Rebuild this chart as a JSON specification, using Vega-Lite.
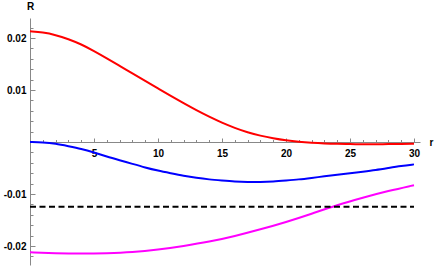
{
  "$schema": "https://vega.github.io/schema/vega-lite/v6.json",
  "autosize": "none",
  "width": 390,
  "height": 247,
  "padding": {"left": 30, "top": 18, "right": 16, "bottom": 2},
  "background": "white",
  "config": {
    "view": {"stroke": null},
    "axis": {
      "grid": false,
      "domainColor": "#888888",
      "tickColor": "#888888",
      "labelFont": "Liberation Sans",
      "labelFontWeight": "bold",
      "labelFontSize": 10,
      "labelColor": "#000000",
      "titleFont": "Liberation Sans",
      "titleFontWeight": "bold",
      "titleFontSize": 10,
      "titleColor": "#000000",
      "labelFlush": false,
      "labelOverlap": false
    }
  },
  "resolve": {"axis": {"x": "independent", "y": "independent"}},
  "layer": [
    {
      "data": {
        "values": [
          {"r": 0, "v": 0.0213, "s": "red"}, {"r": 1, "v": 0.0211, "s": "red"}, {"r": 2, "v": 0.0206, "s": "red"}, {"r": 3, "v": 0.0198, "s": "red"}, {"r": 4, "v": 0.0188, "s": "red"}, {"r": 5, "v": 0.0175, "s": "red"}, {"r": 6, "v": 0.0161, "s": "red"}, {"r": 7, "v": 0.01465, "s": "red"}, {"r": 8, "v": 0.0132, "s": "red"}, {"r": 9, "v": 0.01175, "s": "red"}, {"r": 10, "v": 0.0103, "s": "red"}, {"r": 11, "v": 0.00885, "s": "red"}, {"r": 12, "v": 0.00745, "s": "red"}, {"r": 13, "v": 0.0061, "s": "red"}, {"r": 14, "v": 0.00485, "s": "red"}, {"r": 15, "v": 0.0037, "s": "red"}, {"r": 16, "v": 0.0027, "s": "red"}, {"r": 17, "v": 0.00185, "s": "red"}, {"r": 18, "v": 0.0012, "s": "red"}, {"r": 19, "v": 0.0007, "s": "red"}, {"r": 20, "v": 0.0003, "s": "red"}, {"r": 21, "v": 0.00003, "s": "red"}, {"r": 22, "v": -0.00015, "s": "red"}, {"r": 23, "v": -0.00028, "s": "red"}, {"r": 24, "v": -0.00036, "s": "red"}, {"r": 25, "v": -0.0004, "s": "red"}, {"r": 26, "v": -0.00042, "s": "red"}, {"r": 27, "v": -0.00042, "s": "red"}, {"r": 28, "v": -0.0004, "s": "red"}, {"r": 29, "v": -0.00037, "s": "red"}, {"r": 30, "v": -0.00034, "s": "red"},
          {"r": 0, "v": 0, "s": "blue"}, {"r": 1, "v": -0.00005, "s": "blue"}, {"r": 2, "v": -0.0003, "s": "blue"}, {"r": 3, "v": -0.0008, "s": "blue"}, {"r": 4, "v": -0.0013, "s": "blue"}, {"r": 5, "v": -0.002, "s": "blue"}, {"r": 6, "v": -0.0028, "s": "blue"}, {"r": 7, "v": -0.0035, "s": "blue"}, {"r": 8, "v": -0.0042, "s": "blue"}, {"r": 9, "v": -0.0049, "s": "blue"}, {"r": 10, "v": -0.0055, "s": "blue"}, {"r": 11, "v": -0.006, "s": "blue"}, {"r": 12, "v": -0.0065, "s": "blue"}, {"r": 13, "v": -0.0069, "s": "blue"}, {"r": 14, "v": -0.0072, "s": "blue"}, {"r": 15, "v": -0.0074, "s": "blue"}, {"r": 16, "v": -0.0076, "s": "blue"}, {"r": 17, "v": -0.0077, "s": "blue"}, {"r": 18, "v": -0.0077, "s": "blue"}, {"r": 19, "v": -0.0076, "s": "blue"}, {"r": 20, "v": -0.0074, "s": "blue"}, {"r": 21, "v": -0.0072, "s": "blue"}, {"r": 22, "v": -0.0069, "s": "blue"}, {"r": 23, "v": -0.0066, "s": "blue"}, {"r": 24, "v": -0.0063, "s": "blue"}, {"r": 25, "v": -0.006, "s": "blue"}, {"r": 26, "v": -0.0057, "s": "blue"}, {"r": 27, "v": -0.0054, "s": "blue"}, {"r": 28, "v": -0.005, "s": "blue"}, {"r": 29, "v": -0.0046, "s": "blue"}, {"r": 30, "v": -0.0043, "s": "blue"},
          {"r": 0, "v": -0.0212, "s": "magenta"}, {"r": 2, "v": -0.0214, "s": "magenta"}, {"r": 4, "v": -0.02148, "s": "magenta"}, {"r": 6, "v": -0.0214, "s": "magenta"}, {"r": 8, "v": -0.0212, "s": "magenta"}, {"r": 10, "v": -0.0207, "s": "magenta"}, {"r": 12, "v": -0.02, "s": "magenta"}, {"r": 14, "v": -0.0192, "s": "magenta"}, {"r": 16, "v": -0.0181, "s": "magenta"}, {"r": 18, "v": -0.0168, "s": "magenta"}, {"r": 20, "v": -0.0154, "s": "magenta"}, {"r": 22, "v": -0.0138, "s": "magenta"}, {"r": 24, "v": -0.0121, "s": "magenta"}, {"r": 26, "v": -0.0107, "s": "magenta"}, {"r": 28, "v": -0.0094, "s": "magenta"}, {"r": 30, "v": -0.0083, "s": "magenta"}
        ]
      },
      "mark": {"type": "line", "strokeWidth": 2, "interpolate": "basis", "clip": true},
      "encoding": {
        "x": {
          "field": "r", "type": "quantitative",
          "scale": {"domain": [0, 30.47], "nice": false, "zero": false},
          "axis": {
            "orient": "bottom",
            "values": [5, 10, 15, 20, 25, 30],
            "tickSize": -4,
            "labelOverlap": false,
            "labelBound": false,
            "labelFlush": false,
            "offset": -123,
            "labelPadding": 10,
            "title": "r",
            "titleX": 401,
            "titleY": 0,
            "titleAlign": "center",
            "titleBaseline": "middle",
            "titleAngle": 0
          }
        },
        "y": {
          "field": "v", "type": "quantitative",
          "scale": {"domain": [-0.02365, 0.02385], "nice": false, "zero": false},
          "axis": {
            "orient": "left",
            "values": [-0.02, -0.01, 0.01, 0.02],
            "tickSize": -5,
            "labelExpr": "replace(format(datum.value, '.2f'), '\u2212', '-')",
            "labelOverlap": false,
            "labelBound": false,
            "labelFlush": false,
            "labelPadding": 9,
            "title": "R",
            "titleX": 0,
            "titleY": -12,
            "titleAlign": "center",
            "titleBaseline": "middle",
            "titleAngle": 0
          }
        },
        "color": {
          "field": "s", "type": "nominal", "legend": null,
          "scale": {"domain": ["red", "blue", "magenta"], "range": ["#ff0000", "#0000ff", "#ff00ff"]}
        }
      }
    },
    {
      "data": {"values": [{"r": 0, "v": -0.01245}, {"r": 30, "v": -0.01245}]},
      "mark": {"type": "line", "strokeWidth": 2, "color": "#000000", "strokeDash": [6, 3.5]},
      "encoding": {
        "x": {
          "field": "r", "type": "quantitative",
          "axis": {
            "orient": "bottom",
            "values": [1,2,3,4,6,7,8,9,11,12,13,14,16,17,18,19,21,22,23,24,26,27,28,29],
            "tickSize": -2.5,
            "labels": false,
            "domain": false,
            "offset": -123,
            "title": null
          }
        },
        "y": {
          "field": "v", "type": "quantitative",
          "axis": {
            "orient": "left",
            "values": [-0.022,-0.018,-0.016,-0.014,-0.012,-0.008,-0.006,-0.004,-0.002,0.002,0.004,0.006,0.008,0.012,0.014,0.016,0.018,0.022],
            "tickSize": -3,
            "labels": false,
            "domain": false,
            "title": null
          }
        }
      }
    }
  ]
}
